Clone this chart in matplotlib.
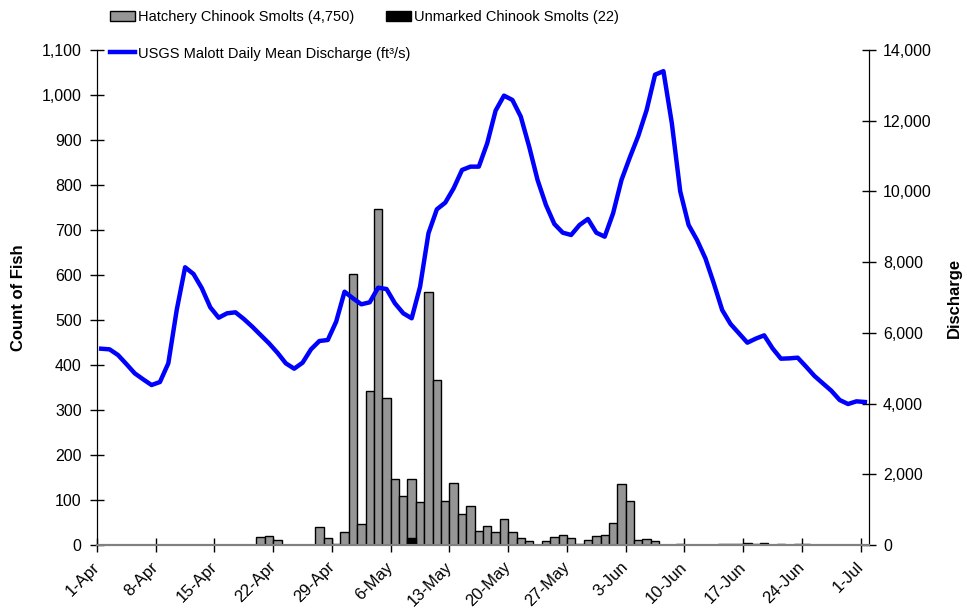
import numpy as np
import matplotlib
matplotlib.use('Agg')
import matplotlib.pyplot as plt
from matplotlib.patches import Patch
from matplotlib.lines import Line2D
from matplotlib.ticker import FuncFormatter, MultipleLocator

plt.rcParams['font.family'] = ['Liberation Sans', 'DejaVu Sans']

# daily values, 1-Apr (day 0) through 1-Jul (day 91); nan = no trapping
nan = np.nan
hatchery = [
    nan, nan, nan, nan, nan, nan, nan, nan, nan, nan,   # 1-10 Apr
    nan, nan, nan, nan, nan, nan, nan, nan, nan, 18,    # 11-20 Apr
    20, 11, nan, nan, 0, 0, 40, 15, 0, 28,              # 21-30 Apr
    603, 47, 343, 746, 326, 147, 110, 147, 95, 562,     # 1-10 May
    366, 97, 138, 69, 87, 31, 42, 29, 58, 28,           # 11-20 May
    15, 8, 0, 8, 19, 23, 15, 3, 12, 20,                 # 21-30 May
    23, 48, 135, 97, 12, 13, 8, 0, 0, 0,                # 31 May-9 Jun
    nan, 1, 1, 1, 2, 2, 3, 4, 2, 5,                     # 10-19 Jun
    1, 2, 1, 2, 2, nan, nan, nan, nan, nan,             # 20-29 Jun
    nan, nan,                                           # 30 Jun-1 Jul
]
unmarked = [0] * 92
unmarked[28] = 3
unmarked[37] = 15
unmarked[69] = 2
unmarked[77] = 2

discharge = [
    5552, 5534, 5374, 5119, 4855, 4686, 4525, 4610, 5139, 6646,
    7854, 7665, 7260, 6722, 6429, 6553, 6581, 6392, 6175, 5939,
    5704, 5439, 5139, 4987, 5157, 5534, 5770, 5798, 6316, 7164,
    6977, 6808, 6864, 7277, 7240, 6836, 6553, 6412, 7306, 8816,
    9494, 9682, 10088, 10606, 10700, 10700, 11361, 12284, 12708, 12586,
    12114, 11265, 10323, 9616, 9079, 8833, 8768, 9050, 9220, 8833,
    8720, 9381, 10323, 10964, 11568, 12303, 13300, 13400, 11927, 10000,
    9050, 8626, 8108, 7401, 6646, 6250, 5987, 5722, 5836, 5930,
    5562, 5270, 5279, 5298, 5044, 4780, 4572, 4365, 4101, 3988,
    4064, 4045,
]

tick_labels = ['1-Apr', '8-Apr', '15-Apr', '22-Apr', '29-Apr', '6-May', '13-May',
               '20-May', '27-May', '3-Jun', '10-Jun', '17-Jun', '24-Jun', '1-Jul']

days = np.arange(len(discharge))
hatchery = np.array(hatchery, dtype=float)
unmarked = np.array(unmarked, dtype=float)

fig, ax = plt.subplots(figsize=(9.67, 6.09), dpi=100)
fig.subplots_adjust(left=0.1003, right=0.8987, top=0.918, bottom=0.105)
ax2 = ax.twinx()

# bars sit between the date ticks
ok = ~np.isnan(hatchery)
ax.bar(days[ok] + 0.5, hatchery[ok], width=1.0, color='#969696',
       edgecolor='black', linewidth=1.0, zorder=2)
um = unmarked > 0
ax.bar(days[um] + 0.5, unmarked[um], width=1.0, color='black',
       edgecolor='black', linewidth=1.0, zorder=3)

ax2.plot(days + 0.5, discharge, color='#0000FF', linewidth=3.2, zorder=4)

ax.set_xlim(0, 92)
ax.set_ylim(0, 1100)
ax2.set_ylim(0, 14000)

ax.set_xticks(np.arange(0, 92, 7))
ax.set_xticklabels(tick_labels, rotation=45, ha='right', va='center',
                   rotation_mode='anchor')
ax.yaxis.set_major_locator(MultipleLocator(100))
ax2.yaxis.set_major_locator(MultipleLocator(2000))
comma = FuncFormatter(lambda v, _: f'{v:,.0f}')
ax.yaxis.set_major_formatter(comma)
ax2.yaxis.set_major_formatter(comma)

for a in (ax, ax2):
    a.tick_params(direction='inout', length=10, width=1, labelsize=11.5,
                  colors='black')
    a.spines['top'].set_visible(False)
    a.spines['bottom'].set_color('#808080')
    a.spines['bottom'].set_linewidth(1.5)
ax.tick_params(axis='x', pad=9, labelsize=12)
ax.tick_params(axis='y', pad=6)
ax2.tick_params(axis='y', pad=5)

ax.set_ylabel('Count of Fish', fontsize=12, fontweight='bold')
ax.yaxis.set_label_coords(-0.092, 0.5)
ax2.set_ylabel('Discharge', fontsize=12, fontweight='bold')
ax2.yaxis.set_label_coords(1.101, 0.5)

# legend: two entries stacked on the left, one more to the right of the first row
leg_kw = dict(loc='upper left', frameon=False, borderpad=0, borderaxespad=0,
              handlelength=1.7, handletextpad=0.2, labelspacing=1.55, fontsize=10.5)
fig.legend(
    [Patch(facecolor='#969696', edgecolor='black', linewidth=1.0),
     Line2D([0], [0], color='#0000FF', linewidth=3.2)],
    ['Hatchery Chinook Smolts (4,750)', 'USGS Malott Daily Mean Discharge (ft³/s)'],
    bbox_to_anchor=(110 / 967, 1 - 10 / 609), **leg_kw)
fig.legend([Patch(facecolor='black', edgecolor='black')],
           ['Unmarked Chinook Smolts (22)'],
           bbox_to_anchor=(386 / 967, 1 - 10 / 609), **leg_kw)

fig.savefig('out.png', dpi=100)
